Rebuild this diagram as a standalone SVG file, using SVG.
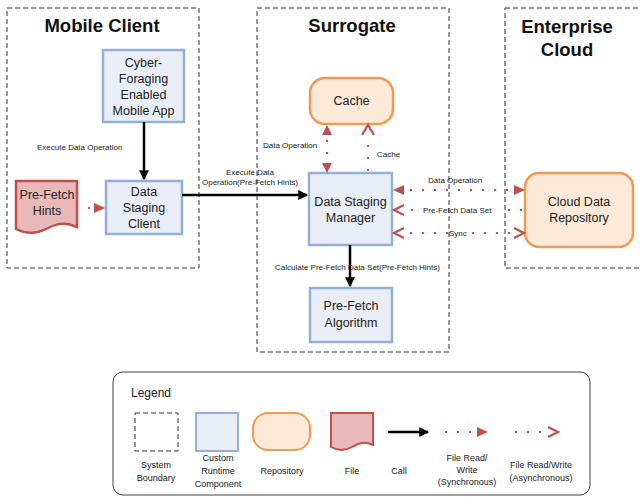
<svg xmlns="http://www.w3.org/2000/svg" width="640" height="497" viewBox="0 0 640 497">
<style>
text{font-family:"Liberation Sans",Arial,sans-serif;fill:#222}
.title{font-size:18.5px;font-weight:bold;text-anchor:middle;fill:#111}
.node{font-size:12.5px;text-anchor:middle}
.lbl{font-size:8px}
.leg{font-size:9px;text-anchor:middle}
.bound{fill:none;stroke:#333;stroke-width:1;stroke-dasharray:5 3}
.comp{fill:#e9eef6;stroke:#95b0d5;stroke-width:2.5}
.repo{fill:#fde9d8;stroke:#f29a52;stroke-width:2.5}
.file{fill:#e8b9b8;stroke:#c0504d;stroke-width:2.5}
.call{stroke:#000;stroke-width:2.5;fill:none}
.dot{stroke:#c0504d;stroke-width:2;stroke-dasharray:2 10;fill:none}
.tri{fill:#c0504d}
.chev{fill:none;stroke:#c0504d;stroke-width:2.2}
</style>
<defs>
<marker id="ah" markerWidth="4" markerHeight="4" refX="3.5" refY="2" orient="auto" markerUnits="strokeWidth"><path d="M0,0 L4,2 L0,4 Z" fill="#000"/></marker>
</defs>

<g id="mobile-client">
<rect class="bound" x="7" y="8" width="192" height="260"/>
<text class="title" x="102" y="32">Mobile Client</text>
</g>
<g id="surrogate">
<rect class="bound" x="257" y="8" width="192" height="344"/>
<text class="title" x="352" y="32">Surrogate</text>
</g>
<g id="enterprise-cloud">
<rect class="bound" x="505" y="8" width="145" height="260"/>
<text class="title" x="567" y="33">Enterprise</text>
<text class="title" x="567" y="56">Cloud</text>
</g>

<g id="cyber-app">
<rect class="comp" x="103" y="50" width="81" height="72"/>
<text class="node" x="143.5" y="67">Cyber-</text>
<text class="node" x="143.5" y="83">Foraging</text>
<text class="node" x="143.5" y="99">Enabled</text>
<text class="node" x="143.5" y="115">Mobile App</text>
</g>
<g id="data-staging-client">
<rect class="comp" x="106" y="181" width="76" height="53"/>
<text class="node" x="144" y="196">Data</text>
<text class="node" x="144" y="212">Staging</text>
<text class="node" x="144" y="228">Client</text>
</g>
<g id="prefetch-hints">
<path class="file" d="M16,181 H77 V227 C64,221 56,224 46,229 C36,234 26,234 16,229 Z"/>
<text class="node" x="47" y="199">Pre-Fetch</text>
<text class="node" x="47" y="215">Hints</text>
</g>
<g id="cache">
<rect class="repo" x="310" y="78" width="83" height="46" rx="15"/>
<text class="node" x="351.5" y="105">Cache</text>
</g>
<g id="data-staging-manager">
<rect class="comp" x="309" y="173" width="83" height="72"/>
<text class="node" x="350.5" y="206">Data Staging</text>
<text class="node" x="350.5" y="222">Manager</text>
</g>
<g id="prefetch-algorithm">
<rect class="comp" x="310" y="288" width="82" height="54"/>
<text class="node" x="351" y="310">Pre-Fetch</text>
<text class="node" x="351" y="327">Algorithm</text>
</g>
<g id="cloud-repo">
<rect class="repo" x="525" y="173" width="108" height="74" rx="14"/>
<text class="node" x="579" y="206">Cloud Data</text>
<text class="node" x="579" y="222">Repository</text>
</g>

<g id="connectors">
<line class="call" x1="144" y1="122" x2="144" y2="179" marker-end="url(#ah)"/>
<text class="lbl" x="37" y="150">Execute Data Operation</text>
<line class="call" x1="182" y1="195" x2="307" y2="195" marker-end="url(#ah)"/>
<text class="lbl" x="250" y="175" text-anchor="middle">Execute Data</text>
<text class="lbl" x="250" y="185" text-anchor="middle">Operation(Pre-Fetch Hints)</text>
<line class="call" x1="350" y1="245" x2="350" y2="286" marker-end="url(#ah)"/>
<text class="lbl" x="275" y="270">Calculate Pre-Fetch Data Set(Pre-Fetch Hints)</text>

<line class="dot" x1="88" y1="208" x2="94" y2="208"/>
<path class="tri" d="M94,203 L105,208 L94,213 Z"/>

<line class="dot" x1="327" y1="140" x2="327" y2="160"/>
<path class="tri" d="M327,125 L332,135 L322,135 Z"/>
<path class="tri" d="M327,173 L332,163 L322,163 Z"/>
<text class="lbl" x="263" y="148">Data Operation</text>

<line class="dot" x1="368" y1="145" x2="368" y2="175"/>
<path class="chev" d="M362,135 L368,125 L374,135"/>
<text class="lbl" x="377" y="157">Cache</text>

<line class="dot" x1="410" y1="190" x2="512" y2="190"/>
<path class="tri" d="M393,190 L404,185 L404,195 Z"/>
<path class="tri" d="M525,190 L514,185 L514,195 Z"/>
<text class="lbl" x="428" y="183">Data Operation</text>

<line class="dot" x1="411" y1="210" x2="421" y2="210"/>
<line class="dot" x1="508" y1="210" x2="522" y2="210"/>
<path class="chev" d="M404,205 L394,210 L404,215"/>
<text class="lbl" x="423" y="213">Pre-Fetch Data Set</text>

<line class="dot" x1="410" y1="233" x2="448" y2="233"/>
<line class="dot" x1="472" y1="233" x2="512" y2="233"/>
<path class="chev" d="M404,228 L394,233 L404,238"/>
<path class="chev" d="M514,228 L524,233 L514,238"/>
<text class="lbl" x="449" y="236">Sync</text>
</g>

<g id="legend">
<rect x="113" y="372" width="477" height="123" rx="10" fill="#fff" stroke="#404040" stroke-width="1"/>
<text x="131" y="397" style="font-size:12px">Legend</text>
<rect class="bound" x="135" y="413" width="43" height="38"/>
<text class="leg" x="156" y="468">System</text>
<text class="leg" x="156" y="481">Boundary</text>
<rect class="comp" x="196" y="413" width="42" height="38" style="stroke-width:2"/>
<text class="leg" x="218" y="461">Custom</text>
<text class="leg" x="218" y="474">Runtime</text>
<text class="leg" x="218" y="487">Component</text>
<rect class="repo" x="253" y="413" width="57" height="37" rx="15" style="stroke-width:2"/>
<text class="leg" x="282" y="474">Repository</text>
<path class="file" style="stroke-width:2" d="M331,413 H373 V445 C364,441 359,443 352,447 C345,451 338,451 331,447 Z"/>
<text class="leg" x="352" y="474">File</text>
<line class="call" x1="388" y1="432" x2="428" y2="432" marker-end="url(#ah)"/>
<text class="leg" x="399" y="474">Call</text>
<line class="dot" x1="445" y1="432" x2="474" y2="432"/>
<path class="tri" d="M477,427 L488,432 L477,437 Z"/>
<text class="leg" x="467" y="461">File Read/</text>
<text class="leg" x="467" y="473">Write</text>
<text class="leg" x="467" y="485">(Synchronous)</text>
<line class="dot" x1="515" y1="432" x2="544" y2="432"/>
<path class="chev" d="M548,427 L558,432 L548,437"/>
<text class="leg" x="541" y="468">File Read/Write</text>
<text class="leg" x="541" y="481">(Asynchronous)</text>
</g>
</svg>
